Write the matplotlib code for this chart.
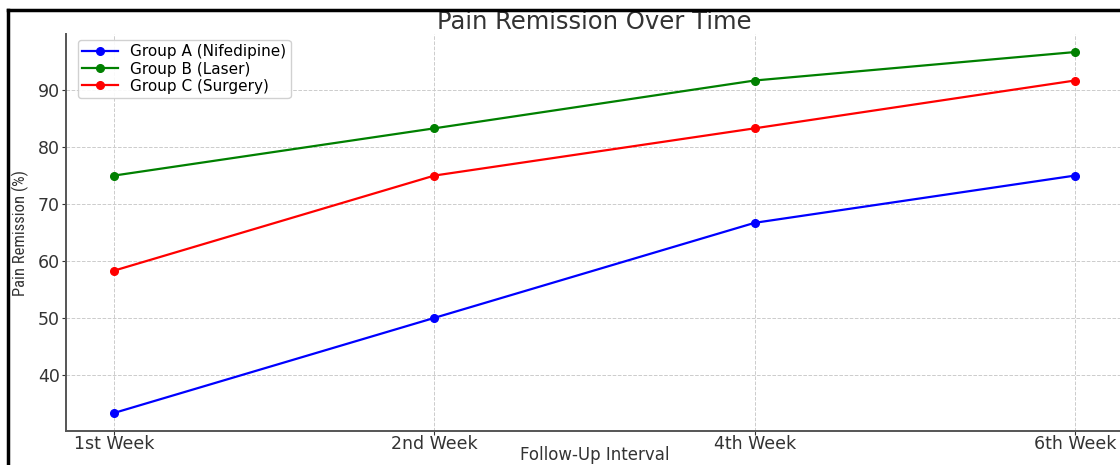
import matplotlib
matplotlib.use('Agg')
import matplotlib.pyplot as plt
from matplotlib import font_manager
from matplotlib.lines import Line2D

weeks = ['1st Week', '2nd Week', '4th Week', '6th Week']
group_a = [33.3, 50.0, 66.7, 75.0]
group_b = [75.0, 83.3, 91.7, 96.7]
group_c = [58.3, 75.0, 83.3, 91.7]

# narrow font for the y label if one is installed
names = set(f.name for f in font_manager.fontManager.ttflist)
narrow = 'DejaVu Sans'
narrow_stretch = 'normal'
for cand in ['Liberation Sans Narrow', 'DejaVu Sans Condensed', 'Roboto Condensed', 'Open Sans Condensed']:
    if cand in names:
        narrow = cand
        break
else:
    narrow_stretch = 'condensed'

fig = plt.figure(figsize=(11.2, 4.65), dpi=100)
ax = fig.add_axes([66/1120, 34/465, (1123-66)/1120, (431-34)/465])

x = range(len(weeks))
ax.plot(x, group_a, marker='o', color='blue', label='Group A (Nifedipine)', lw=1.6, ms=5.5)
ax.plot(x, group_b, marker='o', color='green', label='Group B (Laser)', lw=1.6, ms=5.5)
ax.plot(x, group_c, marker='o', color='red', label='Group C (Surgery)', lw=1.6, ms=5.5)

ax.set_xticks(list(x))
ax.set_xticklabels(weeks)
ax.set_yticks([40, 50, 60, 70, 80, 90])
ax.tick_params(labelsize=12.5, colors='#333333', length=3, pad=1.5)
ax.tick_params(axis='x', pad=0)
ax.grid(True, linestyle='--', color='#cccccc', lw=0.7)
ax.spines['top'].set_visible(False)
ax.spines['right'].set_visible(False)
for s in ('left', 'bottom'):
    ax.spines[s].set_color('#555555')
    ax.spines[s].set_linewidth(1.4)

ax.set_xlabel('Follow-Up Interval', fontsize=12, color='#333333', va='bottom')
ax.xaxis.set_label_coords(0.5, -0.083)
ax.set_ylabel('Pain Remission (%)', fontsize=12, color='#333333',
              family=narrow, fontstretch=narrow_stretch, labelpad=6)
ax.set_title('Pain Remission Over Time', fontsize=17.5, color='#333333', pad=1)

ax.legend(loc='upper left', fontsize=11, framealpha=0.9, borderpad=0.3,
          labelspacing=0.15, handlelength=2.3, handletextpad=0.8,
          bbox_to_anchor=(0.004, 1.005))

# black border from the screenshot crop
fig.add_artist(Line2D([8/1120, 8/1120], [0, 1 - 10/465], color='black', lw=2.5,
                      transform=fig.transFigure))
fig.add_artist(Line2D([8/1120, 1], [1 - 10/465, 1 - 10/465], color='black', lw=2.5,
                      transform=fig.transFigure))

fig.savefig('out.png', dpi=100)
